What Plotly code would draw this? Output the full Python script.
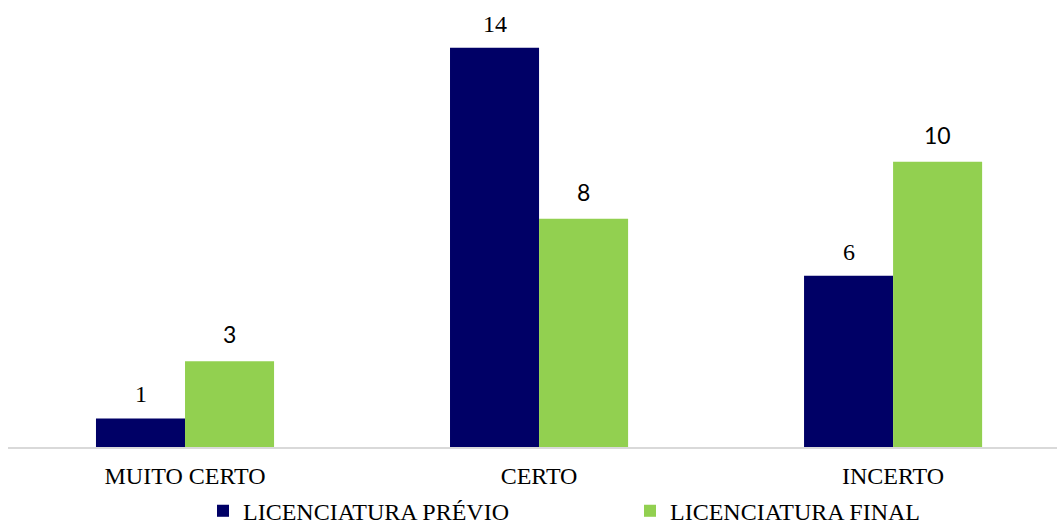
import plotly.graph_objects as go

categories = ["MUITO CERTO", "CERTO", "INCERTO"]
previo = [1, 14, 6]
final = [3, 8, 10]
series_names = ["LICENCIATURA PRÉVIO", "LICENCIATURA FINAL"]

NAVY = "#000066"
GREEN = "#92D050"
SERIF = "Liberation Serif, Times New Roman, serif"
SANS = "Lato, Carlito, Calibri, sans-serif"

fig = go.Figure()
fig.add_trace(go.Bar(x=categories, y=previo, name=series_names[0],
                     marker=dict(color=NAVY, line=dict(width=0))))
fig.add_trace(go.Bar(x=categories, y=final, name=series_names[1],
                     marker=dict(color=GREEN, line=dict(width=0))))

# value labels above each bar
half = 44.5
for cat, v in zip(categories, previo):
    fig.add_annotation(x=cat, y=v, xref="x", yref="y", text=str(v),
                       showarrow=False, yanchor="bottom", xshift=-half, yshift=9,
                       font=dict(family=SERIF, size=24, color="#000000"))
for cat, v in zip(categories, final):
    fig.add_annotation(x=cat, y=v, xref="x", yref="y", text=str(v),
                       showarrow=False, yanchor="bottom", xshift=half, yshift=11,
                       font=dict(family=SANS, size=23, color="#000000"))

fig.update_layout(
    width=1057, height=527,
    margin=dict(l=8, r=0, t=5, b=78),
    paper_bgcolor="white", plot_bgcolor="white",
    barmode="group", bargap=0.497, bargroupgap=0,
    showlegend=True,
    legend=dict(orientation="h", x=0.229, xanchor="left",
                yref="container", y=0.03, yanchor="middle",
                font=dict(family=SERIF, size=24, color="#000000"),
                entrywidth=382, itemsizing="constant", bgcolor="rgba(0,0,0,0)"),
    font=dict(family=SERIF, size=24, color="#000000"),
)
fig.update_xaxes(type="category", range=[-0.5, 2.463], showline=True,
                 linecolor="#D9D9D9", linewidth=2, showgrid=False, ticks="",
                 ticklabelstandoff=6,
                 tickfont=dict(family=SERIF, size=24, color="#000000"))
fig.update_yaxes(range=[0, 15.5], visible=False, showgrid=False, zeroline=False)

fig.write_html("out.html")
